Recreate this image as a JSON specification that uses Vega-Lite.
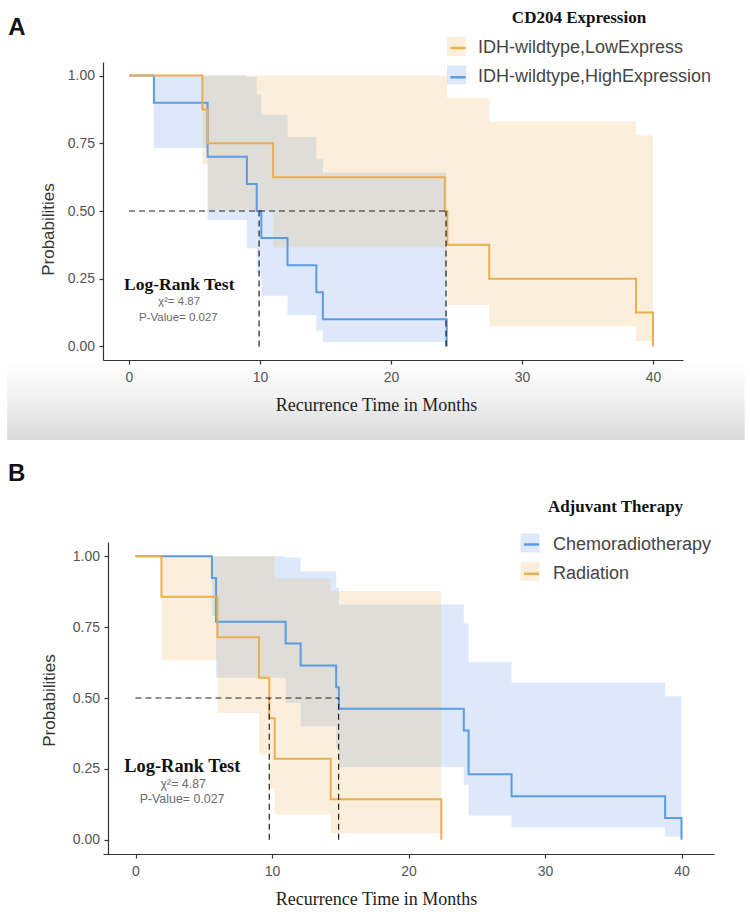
{
  "$schema": "https://vega.github.io/schema/vega-lite/v6.json",
  "autosize": {"type": "none"},
  "padding": {"left": 103, "top": 62, "right": 647, "bottom": 860},
  "background": "white",
  "bounds": "flush",
  "spacing": 182,
  "config": {
    "font": "Liberation Sans",
    "view": {"stroke": null},
    "legend": {"labelLimit": 400, "titleLimit": 400}
  },
  "datasets": {
    "linesA": [
      {"t": 0, "s": 1, "grp": "IDH-wildtype,HighExpression"},
      {"t": 1.9, "s": 0.9, "grp": "IDH-wildtype,HighExpression"},
      {"t": 6.0, "s": 0.7, "grp": "IDH-wildtype,HighExpression"},
      {"t": 9.0, "s": 0.6, "grp": "IDH-wildtype,HighExpression"},
      {"t": 9.75, "s": 0.5, "grp": "IDH-wildtype,HighExpression"},
      {"t": 10.1, "s": 0.4, "grp": "IDH-wildtype,HighExpression"},
      {"t": 12.1, "s": 0.3, "grp": "IDH-wildtype,HighExpression"},
      {"t": 14.3, "s": 0.2, "grp": "IDH-wildtype,HighExpression"},
      {"t": 14.8, "s": 0.1, "grp": "IDH-wildtype,HighExpression"},
      {"t": 24.25, "s": 0, "grp": "IDH-wildtype,HighExpression"},
      {"t": 0, "s": 1, "grp": "IDH-wildtype,LowExpress"},
      {"t": 5.6, "s": 0.875, "grp": "IDH-wildtype,LowExpress"},
      {"t": 6.0, "s": 0.75, "grp": "IDH-wildtype,LowExpress"},
      {"t": 11.0, "s": 0.625, "grp": "IDH-wildtype,LowExpress"},
      {"t": 24.1, "s": 0.5, "grp": "IDH-wildtype,LowExpress"},
      {"t": 24.3, "s": 0.375, "grp": "IDH-wildtype,LowExpress"},
      {"t": 27.5, "s": 0.25, "grp": "IDH-wildtype,LowExpress"},
      {"t": 38.7, "s": 0.125, "grp": "IDH-wildtype,LowExpress"},
      {"t": 40.0, "s": 0, "grp": "IDH-wildtype,LowExpress"}
    ],
    "bandsA": [
      {"t": 0, "lo": 1, "hi": 1, "grp": "IDH-wildtype,HighExpression"},
      {"t": 1.9, "lo": 0.733, "hi": 1, "grp": "IDH-wildtype,HighExpression"},
      {"t": 6.0, "lo": 0.467, "hi": 1, "grp": "IDH-wildtype,HighExpression"},
      {"t": 9.0, "lo": 0.362, "hi": 0.995, "grp": "IDH-wildtype,HighExpression"},
      {"t": 9.75, "lo": 0.269, "hi": 0.93, "grp": "IDH-wildtype,HighExpression"},
      {"t": 10.1, "lo": 0.187, "hi": 0.855, "grp": "IDH-wildtype,HighExpression"},
      {"t": 12.1, "lo": 0.116, "hi": 0.773, "grp": "IDH-wildtype,HighExpression"},
      {"t": 14.3, "lo": 0.058, "hi": 0.691, "grp": "IDH-wildtype,HighExpression"},
      {"t": 14.8, "lo": 0.016, "hi": 0.642, "grp": "IDH-wildtype,HighExpression"},
      {"t": 24.25, "lo": 0.016, "hi": 0.642, "grp": "IDH-wildtype,HighExpression"},
      {"t": 0, "lo": 1, "hi": 1, "grp": "IDH-wildtype,LowExpress"},
      {"t": 5.6, "lo": 0.674, "hi": 1, "grp": "IDH-wildtype,LowExpress"},
      {"t": 6.0, "lo": 0.503, "hi": 1, "grp": "IDH-wildtype,LowExpress"},
      {"t": 11.0, "lo": 0.365, "hi": 1, "grp": "IDH-wildtype,LowExpress"},
      {"t": 24.1, "lo": 0.25, "hi": 1, "grp": "IDH-wildtype,LowExpress"},
      {"t": 24.3, "lo": 0.153, "hi": 0.917, "grp": "IDH-wildtype,LowExpress"},
      {"t": 27.5, "lo": 0.075, "hi": 0.83, "grp": "IDH-wildtype,LowExpress"},
      {"t": 38.7, "lo": 0.02, "hi": 0.78, "grp": "IDH-wildtype,LowExpress"},
      {"t": 40.0, "lo": 0.02, "hi": 0.78, "grp": "IDH-wildtype,LowExpress"}
    ],
    "medA": [
      {"x": 0, "x2": 24.2, "y": 0.5, "y2": 0.5},
      {"x": 9.93, "x2": 9.93, "y": 0, "y2": 0.5},
      {"x": 24.2, "x2": 24.2, "y": 0, "y2": 0.5}
    ],
    "linesB": [
      {"t": 0, "s": 1, "grp": "Chemoradiotherapy"},
      {"t": 5.6, "s": 0.923, "grp": "Chemoradiotherapy"},
      {"t": 5.9, "s": 0.769, "grp": "Chemoradiotherapy"},
      {"t": 11.0, "s": 0.692, "grp": "Chemoradiotherapy"},
      {"t": 12.1, "s": 0.615, "grp": "Chemoradiotherapy"},
      {"t": 14.7, "s": 0.538, "grp": "Chemoradiotherapy"},
      {"t": 14.9, "s": 0.462, "grp": "Chemoradiotherapy"},
      {"t": 24.05, "s": 0.385, "grp": "Chemoradiotherapy"},
      {"t": 24.4, "s": 0.231, "grp": "Chemoradiotherapy"},
      {"t": 27.55, "s": 0.154, "grp": "Chemoradiotherapy"},
      {"t": 38.8, "s": 0.077, "grp": "Chemoradiotherapy"},
      {"t": 40.0, "s": 0, "grp": "Chemoradiotherapy"},
      {"t": 0, "s": 1, "grp": "Radiation"},
      {"t": 1.9, "s": 0.857, "grp": "Radiation"},
      {"t": 6.0, "s": 0.714, "grp": "Radiation"},
      {"t": 9.05, "s": 0.571, "grp": "Radiation"},
      {"t": 9.8, "s": 0.429, "grp": "Radiation"},
      {"t": 10.2, "s": 0.286, "grp": "Radiation"},
      {"t": 14.3, "s": 0.143, "grp": "Radiation"},
      {"t": 22.4, "s": 0, "grp": "Radiation"}
    ],
    "bandsB": [
      {"t": 0, "lo": 1, "hi": 1, "grp": "Chemoradiotherapy"},
      {"t": 5.6, "lo": 0.789, "hi": 1, "grp": "Chemoradiotherapy"},
      {"t": 5.9, "lo": 0.571, "hi": 1, "grp": "Chemoradiotherapy"},
      {"t": 11.0, "lo": 0.482, "hi": 0.995, "grp": "Chemoradiotherapy"},
      {"t": 12.1, "lo": 0.40, "hi": 0.946, "grp": "Chemoradiotherapy"},
      {"t": 14.7, "lo": 0.325, "hi": 0.89, "grp": "Chemoradiotherapy"},
      {"t": 14.9, "lo": 0.257, "hi": 0.83, "grp": "Chemoradiotherapy"},
      {"t": 24.05, "lo": 0.194, "hi": 0.763, "grp": "Chemoradiotherapy"},
      {"t": 24.4, "lo": 0.086, "hi": 0.626, "grp": "Chemoradiotherapy"},
      {"t": 27.55, "lo": 0.043, "hi": 0.555, "grp": "Chemoradiotherapy"},
      {"t": 38.8, "lo": 0.012, "hi": 0.506, "grp": "Chemoradiotherapy"},
      {"t": 40.0, "lo": 0.012, "hi": 0.506, "grp": "Chemoradiotherapy"},
      {"t": 0, "lo": 1, "hi": 1, "grp": "Radiation"},
      {"t": 1.9, "lo": 0.633, "hi": 1, "grp": "Radiation"},
      {"t": 6.0, "lo": 0.447, "hi": 1, "grp": "Radiation"},
      {"t": 9.05, "lo": 0.301, "hi": 1, "grp": "Radiation"},
      {"t": 9.8, "lo": 0.182, "hi": 1, "grp": "Radiation"},
      {"t": 10.2, "lo": 0.089, "hi": 0.922, "grp": "Radiation"},
      {"t": 14.3, "lo": 0.023, "hi": 0.877, "grp": "Radiation"},
      {"t": 22.4, "lo": 0.023, "hi": 0.877, "grp": "Radiation"}
    ],
    "medB": [
      {"x": 0, "x2": 14.88, "y": 0.5, "y2": 0.5},
      {"x": 9.8, "x2": 9.8, "y": 0, "y2": 0.5},
      {"x": 14.88, "x2": 14.88, "y": 0, "y2": 0.5}
    ]
  },
  "vconcat": [
    {
      "width": 580,
      "height": 298,
      "layer": [
        {
          "data": {"values": [{}]},
          "mark": {"type": "rect", "color": {"gradient": "linear", "x1": 0, "y1": 0, "x2": 0, "y2": 1, "stops": [{"offset": 0, "color": "#ffffff"}, {"offset": 0.45, "color": "#f2f2f2"}, {"offset": 1, "color": "#d9d9d9"}]}},
          "encoding": {
            "x": {"datum": -9.3, "type": "quantitative", "scale": {"domain": [-1.985, 42.29], "nice": false, "zero": false}},
            "x2": {"datum": 47.0},
            "y": {"datum": -0.057, "type": "quantitative", "scale": {"domain": [-0.05, 1.05], "nice": false, "zero": false}},
            "y2": {"datum": -0.345}
          }
        },
        {
          "data": {"name": "bandsA"},
          "mark": {"type": "area", "interpolate": "step-after", "opacity": 0.2},
          "encoding": {
            "x": {"field": "t", "type": "quantitative", "scale": {"domain": [-1.985, 42.29], "nice": false, "zero": false},
              "axis": {"values": [0, 10, 20, 30, 40], "title": "Recurrence Time in Months", "titleFont": "Liberation Serif", "titleFontSize": 18, "titleFontWeight": "normal", "titleColor": "#222", "titleX": 273, "titlePadding": 12, "labelFont": "Liberation Sans", "labelFontSize": 14, "labelColor": "#555", "labelPadding": 6, "labelFlush": false, "tickSize": 4, "tickColor": "#333", "tickWidth": 1.2, "domainColor": "#333", "domainWidth": 1.2, "grid": false, "zindex": 1}},
            "y": {"field": "lo", "type": "quantitative", "scale": {"domain": [-0.05, 1.05], "nice": false, "zero": false},
              "axis": {"values": [0, 0.25, 0.5, 0.75, 1], "format": ".2f", "title": "Probabilities", "titleFont": "Liberation Sans", "titleFontSize": 17, "titleFontWeight": "normal", "titleColor": "#333", "titleY": 167, "titlePadding": 10, "labelFont": "Liberation Sans", "labelFontSize": 14, "labelColor": "#555", "labelPadding": 4.5, "labelFlush": false, "tickSize": 4, "tickColor": "#333", "tickWidth": 1.2, "domainColor": "#333", "domainWidth": 1.2, "grid": false, "zindex": 1}},
            "y2": {"field": "hi"},
            "fill": {"field": "grp", "type": "nominal", "sort": ["IDH-wildtype,LowExpress", "IDH-wildtype,HighExpression"],
              "scale": {"range": ["#EBAF50", "#5591EB"]},
              "legend": {"orient": "none", "legendX": 344, "legendY": -25, "direction": "vertical", "padding": 0, "title": null, "labelExpr": "''", "labelFontSize": 18, "labelOffset": 9, "symbolType": "square", "symbolSize": 361, "symbolOpacity": 0.2, "symbolStrokeWidth": 0, "rowPadding": 9.3}}
          }
        },
        {
          "data": {"name": "linesA"},
          "mark": {"type": "line", "interpolate": "step-after", "strokeWidth": 2},
          "encoding": {
            "x": {"field": "t", "type": "quantitative", "scale": {"domain": [-1.985, 42.29], "nice": false, "zero": false}},
            "y": {"field": "s", "type": "quantitative", "scale": {"domain": [-0.05, 1.05], "nice": false, "zero": false}},
            "stroke": {"field": "grp", "type": "nominal",
              "scale": {"domain": ["IDH-wildtype,LowExpress", "IDH-wildtype,HighExpression"], "range": ["#E9AF4F", "#5C9BE3"]},
              "legend": {"orient": "none", "legendX": 344, "legendY": -52, "direction": "vertical", "padding": 0, "title": "CD204 Expression", "titleFont": "Liberation Serif", "titleFontWeight": "bold", "titleFontSize": 17, "titleColor": "#111", "titleAnchor": "middle", "titlePadding": 10, "labelFont": "Liberation Sans", "labelFontSize": 18, "labelColor": "#444", "labelOffset": 9, "symbolType": "M-0.8,0H0.8", "symbolSize": 361, "symbolStrokeWidth": 2.5, "rowPadding": 9.3}}
          }
        },
        {
          "data": {"name": "medA"},
          "mark": {"type": "rule", "strokeDash": [6, 4], "color": "#222", "strokeWidth": 1.2},
          "encoding": {
            "x": {"field": "x", "type": "quantitative"},
            "x2": {"field": "x2"},
            "y": {"field": "y", "type": "quantitative"},
            "y2": {"field": "y2"}
          }
        },
        {
          "data": {"values": [{}]},
          "mark": {"type": "text", "text": "Log-Rank Test", "font": "Liberation Serif", "fontWeight": "bold", "fontSize": 17.5, "color": "#111", "align": "center", "baseline": "alphabetic"},
          "encoding": {"x": {"datum": 3.84, "type": "quantitative"}, "y": {"datum": 0.208, "type": "quantitative"}}
        },
        {
          "data": {"values": [{}]},
          "mark": {"type": "text", "text": "χ²= 4.87", "font": "Liberation Sans", "fontSize": 11.5, "color": "#6a6a6a", "align": "center", "baseline": "alphabetic"},
          "encoding": {"x": {"datum": 3.82, "type": "quantitative"}, "y": {"datum": 0.153, "type": "quantitative"}}
        },
        {
          "data": {"values": [{}]},
          "mark": {"type": "text", "text": "P-Value= 0.027", "font": "Liberation Sans", "fontSize": 11.5, "color": "#6a6a6a", "align": "center", "baseline": "alphabetic"},
          "encoding": {"x": {"datum": 3.77, "type": "quantitative"}, "y": {"datum": 0.095, "type": "quantitative"}}
        },
        {
          "data": {"values": [{}]},
          "mark": {"type": "text", "text": "A", "font": "Liberation Sans", "fontWeight": "bold", "fontSize": 24, "color": "#111", "align": "center", "baseline": "alphabetic"},
          "encoding": {"x": {"datum": -8.56, "type": "quantitative"}, "y": {"datum": 1.15, "type": "quantitative"}}
        }
      ]
    },
    {
      "width": 611,
      "height": 312,
      "layer": [
        {
          "data": {"name": "bandsB"},
          "mark": {"type": "area", "interpolate": "step-after", "opacity": 0.2},
          "encoding": {
            "x": {"field": "t", "type": "quantitative", "scale": {"domain": [-2.381, 42.38], "nice": false, "zero": false},
              "axis": {"values": [0, 10, 20, 30, 40], "title": "Recurrence Time in Months", "titleFont": "Liberation Serif", "titleFontSize": 18, "titleFontWeight": "normal", "titleColor": "#222", "titleX": 273, "titlePadding": 12, "labelFont": "Liberation Sans", "labelFontSize": 14, "labelColor": "#555", "labelPadding": 6, "labelFlush": false, "tickSize": 4, "tickColor": "#333", "tickWidth": 1.2, "domainColor": "#333", "domainWidth": 1.2, "grid": false, "zindex": 1}},
            "y": {"field": "lo", "type": "quantitative", "scale": {"domain": [-0.05, 1.05], "nice": false, "zero": false},
              "axis": {"values": [0, 0.25, 0.5, 0.75, 1], "format": ".2f", "offset": -5, "title": "Probabilities", "titleFont": "Liberation Sans", "titleFontSize": 17, "titleFontWeight": "normal", "titleColor": "#333", "titleY": 158, "titlePadding": 14, "labelFont": "Liberation Sans", "labelFontSize": 14, "labelColor": "#555", "labelPadding": 4.5, "labelFlush": false, "tickSize": 4, "tickColor": "#333", "tickWidth": 1.2, "domainColor": "#333", "domainWidth": 1.2, "grid": false, "zindex": 1}},
            "y2": {"field": "hi"},
            "fill": {"field": "grp", "type": "nominal", "sort": ["Chemoradiotherapy", "Radiation"],
              "scale": {"range": ["#5591EB", "#EBAF50"]},
              "legend": {"orient": "none", "legendX": 417.5, "legendY": -8.5, "direction": "vertical", "padding": 0, "title": null, "labelExpr": "''", "labelFontSize": 18, "labelOffset": 10.5, "symbolType": "square", "symbolSize": 361, "symbolOpacity": 0.2, "symbolStrokeWidth": 0, "rowPadding": 9.3}}
          }
        },
        {
          "data": {"name": "linesB"},
          "mark": {"type": "line", "interpolate": "step-after", "strokeWidth": 2},
          "encoding": {
            "x": {"field": "t", "type": "quantitative", "scale": {"domain": [-2.381, 42.38], "nice": false, "zero": false}},
            "y": {"field": "s", "type": "quantitative", "scale": {"domain": [-0.05, 1.05], "nice": false, "zero": false}},
            "stroke": {"field": "grp", "type": "nominal",
              "scale": {"domain": ["Chemoradiotherapy", "Radiation"], "range": ["#5C9BE3", "#E9AF4F"]},
              "legend": {"orient": "none", "legendX": 417.5, "legendY": -43, "direction": "vertical", "padding": 0, "title": "Adjuvant Therapy", "titleFont": "Liberation Serif", "titleFontWeight": "bold", "titleFontSize": 17, "titleColor": "#111", "titleAnchor": "middle", "titlePadding": 17.5, "labelFont": "Liberation Sans", "labelFontSize": 18, "labelColor": "#444", "labelOffset": 10.5, "symbolType": "M-0.8,0H0.8", "symbolSize": 361, "symbolStrokeWidth": 2.5, "rowPadding": 9.3}}
          }
        },
        {
          "data": {"name": "medB"},
          "mark": {"type": "rule", "strokeDash": [6, 4], "color": "#222", "strokeWidth": 1.2},
          "encoding": {
            "x": {"field": "x", "type": "quantitative"},
            "x2": {"field": "x2"},
            "y": {"field": "y", "type": "quantitative"},
            "y2": {"field": "y2"}
          }
        },
        {
          "data": {"values": [{}]},
          "mark": {"type": "text", "text": "Log-Rank Test", "font": "Liberation Serif", "fontWeight": "bold", "fontSize": 18.4, "color": "#111", "align": "center", "baseline": "alphabetic"},
          "encoding": {"x": {"datum": 3.43, "type": "quantitative"}, "y": {"datum": 0.24, "type": "quantitative"}}
        },
        {
          "data": {"values": [{}]},
          "mark": {"type": "text", "text": "χ²= 4.87", "font": "Liberation Sans", "fontSize": 12.4, "color": "#6a6a6a", "align": "center", "baseline": "alphabetic"},
          "encoding": {"x": {"datum": 3.5, "type": "quantitative"}, "y": {"datum": 0.182, "type": "quantitative"}}
        },
        {
          "data": {"values": [{}]},
          "mark": {"type": "text", "text": "P-Value= 0.027", "font": "Liberation Sans", "fontSize": 12.4, "color": "#6a6a6a", "align": "center", "baseline": "alphabetic"},
          "encoding": {"x": {"datum": 3.41, "type": "quantitative"}, "y": {"datum": 0.129, "type": "quantitative"}}
        },
        {
          "data": {"values": [{}]},
          "mark": {"type": "text", "text": "B", "font": "Liberation Sans", "fontWeight": "bold", "fontSize": 24, "color": "#111", "align": "center", "baseline": "alphabetic"},
          "encoding": {"x": {"datum": -8.7, "type": "quantitative"}, "y": {"datum": 1.265, "type": "quantitative"}}
        }
      ]
    }
  ],
  "resolve": {
    "scale": {"x": "independent", "y": "independent", "fill": "independent", "stroke": "independent"},
    "legend": {"fill": "independent", "stroke": "independent"}
  }
}
